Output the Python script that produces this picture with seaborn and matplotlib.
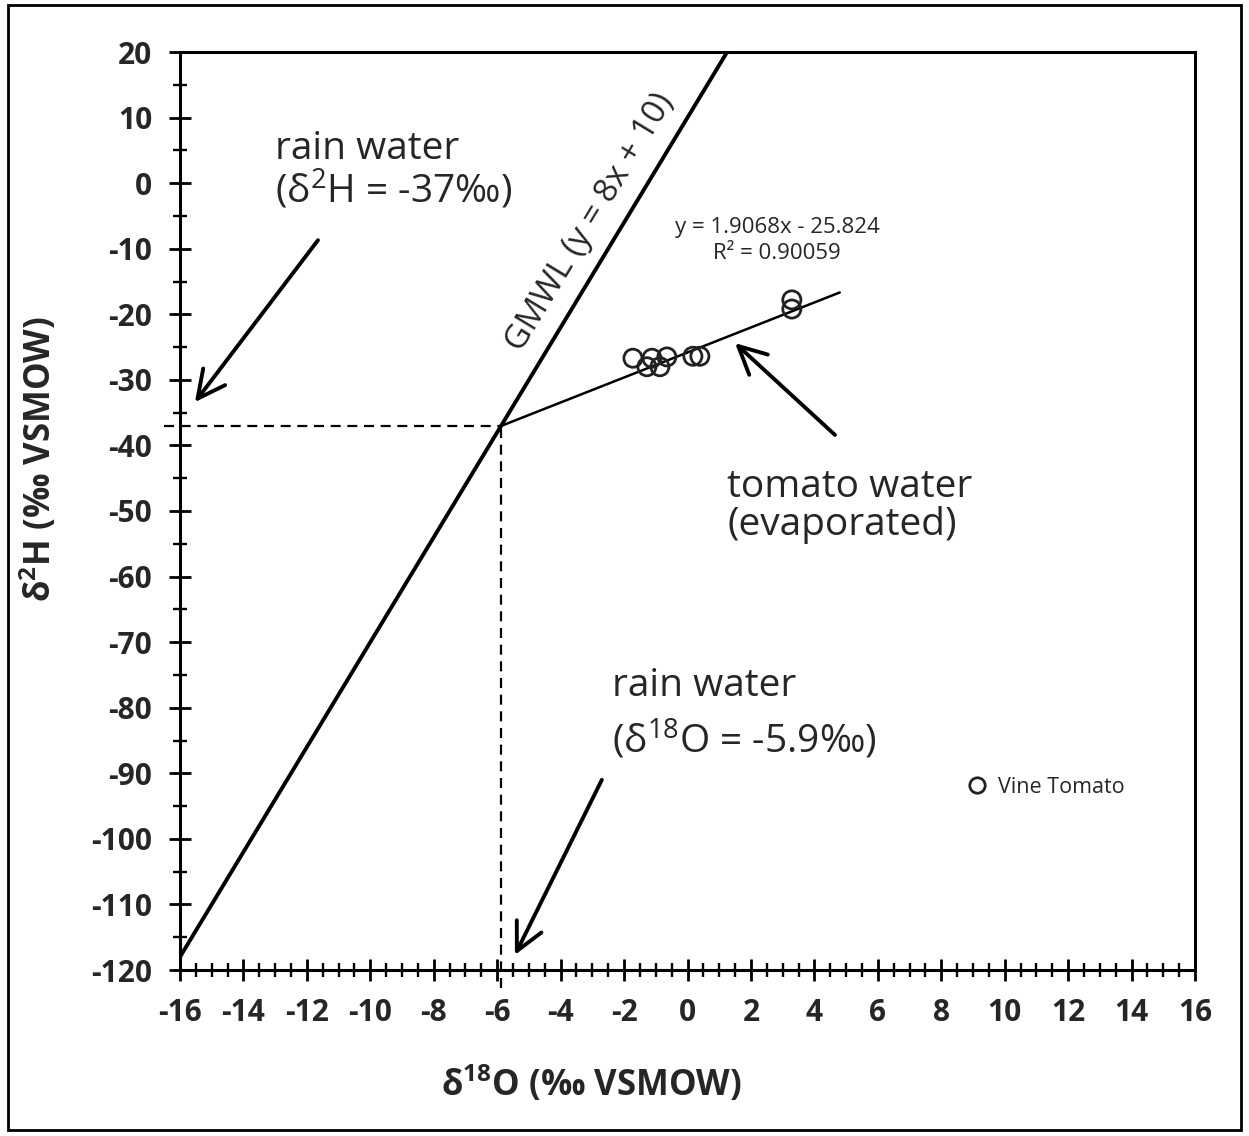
import matplotlib
matplotlib.use("Agg")
import matplotlib.pyplot as plt
import seaborn as sns
import numpy as np
import pandas as pd
from matplotlib.patches import Rectangle
from matplotlib.ticker import MultipleLocator

# ---- data ----
d18O = [-1.72, -1.28, -1.12, -0.87, -0.65, 0.17, 0.39, 3.29, 3.29]
d2H = [-26.7, -28.0, -26.7, -28.0, -26.5, -26.4, -26.4, -17.8, -19.2]
series_name = "Vine Tomato"

gmwl_slope, gmwl_intercept = 8.0, 10.0
fit_slope, fit_intercept = 1.9068, -25.824
fit_r2 = 0.90059
fit_x_end = 4.8
rain_d18O = -5.9
rain_d2H = -37.0

x_ticks = list(range(-16, 17, 2))
y_ticks = list(range(-120, 21, 10))

FAM = ["Open Sans", "DejaVu Sans"]

sns.set_theme(style="white")
plt.rcParams["font.family"] = FAM
plt.rcParams["axes.unicode_minus"] = False
plt.rcParams["mathtext.default"] = "regular"

fig = plt.figure(figsize=(12.49, 11.36), dpi=100)
ax = fig.add_axes([180 / 1249, 1 - 970 / 1136, (1195 - 180) / 1249, (970 - 52) / 1136])

df = pd.DataFrame({"x": d18O, "y": d2H, "s": series_name})
sns.scatterplot(data=df, x="x", y="y", hue="s", palette=["none"], ax=ax,
                s=170, edgecolor="#222222", linewidth=2.0, zorder=5)

# GMWL
gx = np.array([-16.0, (20 - gmwl_intercept) / gmwl_slope])
ax.plot(gx, gmwl_slope * gx + gmwl_intercept, color="black", lw=2.8, zorder=3)

# fitted line, extended back to intersection with GMWL
x_int = (fit_intercept - gmwl_intercept) / (gmwl_slope - fit_slope)
fx = np.array([x_int, fit_x_end])
ax.plot(fx, fit_slope * fx + fit_intercept, color="black", lw=1.8, zorder=3)

# dashed guides
ax.plot([-16.5, x_int], [rain_d2H, rain_d2H], color="black", lw=1.6,
        ls=(0, (4.5, 3)), clip_on=False, zorder=2)
ax.plot([x_int, x_int], [-122.7, rain_d2H], color="black", lw=1.6,
        ls=(0, (4.5, 3)), clip_on=False, zorder=2)

ax.set_xlim(-16, 16)
ax.set_ylim(-120, 20)
ax.xaxis.set_minor_locator(MultipleLocator(0.5))
ax.yaxis.set_minor_locator(MultipleLocator(5))
ax.set_xticks(x_ticks)
ax.set_yticks(y_ticks)
ax.tick_params(which="major", direction="inout", length=16, width=2.0,
               color="black", labelsize=21.5, pad=12, bottom=True, left=True)
ax.tick_params(which="minor", direction="inout", length=10, width=1.7,
               color="black", bottom=True, left=True)
for lab in ax.get_xticklabels() + ax.get_yticklabels():
    lab.set_fontweight("bold")
for sp in ax.spines.values():
    sp.set_color("black")
    sp.set_linewidth(2.2)

ax.set_xlabel(r"δ$^{18}$O (‰ VSMOW)", fontsize=25, fontweight="bold")
ax.set_ylabel(r"δ$^{2}$H (‰ VSMOW)", fontsize=25, fontweight="bold")
ax.xaxis.set_label_coords(0.405, -0.102)
ax.yaxis.set_label_coords(-0.118, 0.556)

arrow = dict(arrowstyle="->,head_length=0.9,head_width=0.45", color="black",
             lw=2.8, mutation_scale=22, shrinkA=0, shrinkB=0)
ax.annotate("", xy=(-15.53, -33.4), xytext=(-11.65, -8.7), arrowprops=arrow)
ax.annotate("", xy=(1.50, -24.4), xytext=(4.65, -38.4), arrowprops=arrow)
ax.annotate("", xy=(-5.44, -117.7), xytext=(-2.70, -91.0), arrowprops=arrow)

tfs = 28
ax.text(-13.0, 1.9, "rain water\n" + r"(δ$^{2}$H = -37‰)", fontsize=tfs, ha="left",
        va="center", linespacing=1.0)
ax.text(1.25, -49.2, "tomato water\n(evaporated)", fontsize=tfs, ha="left", va="center",
        linespacing=1.0)
ax.text(-2.38, -76.7, "rain water", fontsize=tfs, ha="left", va="center")
ax.text(-2.38, -84.9, r"(δ$^{18}$O = -5.9‰)", fontsize=tfs, ha="left", va="center")

ax.text(2.82, -8.7, f"y = {fit_slope}x - {abs(fit_intercept)}\nR² = {fit_r2}",
        fontsize=16, ha="center", va="center", linespacing=1.3)

ax.text(-3.07, -5.9, "GMWL (y = 8x + 10)", fontsize=24, rotation=58.8,
        rotation_mode="anchor", ha="center", va="center")

leg = ax.legend(loc="center left", bbox_to_anchor=(0.753, 0.199), frameon=False,
                fontsize=15.5, handletextpad=0.0, borderpad=0, markerscale=0.85)

fig.patches.append(Rectangle((8 / 1249, 1 - 1130 / 1136), (1241 - 8) / 1249, (1130 - 5) / 1136,
                             transform=fig.transFigure, fill=False, edgecolor="black", lw=2))

fig.savefig("out.png", dpi=100)
